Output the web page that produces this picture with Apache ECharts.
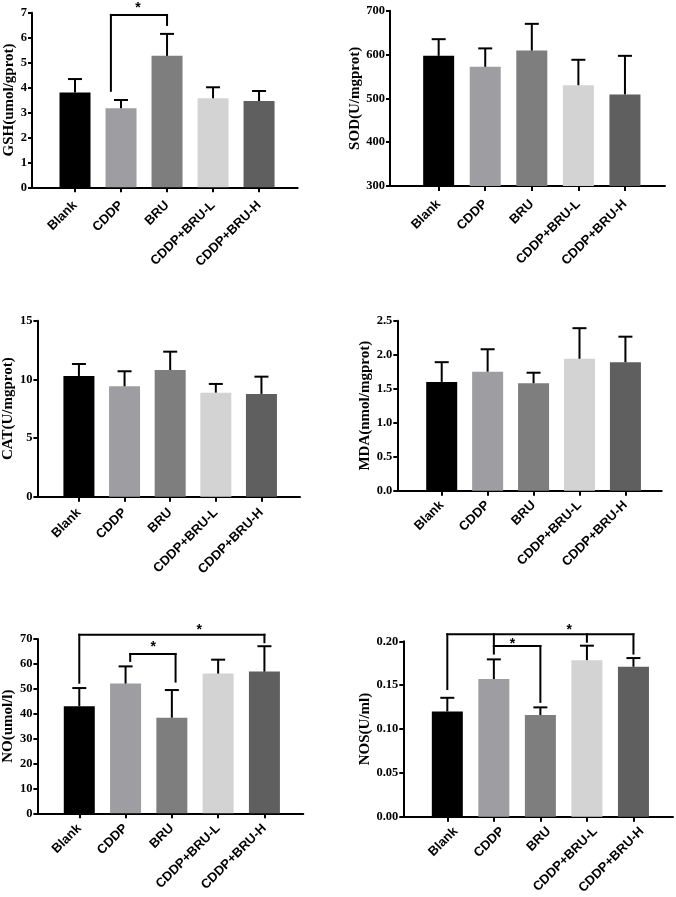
<!DOCTYPE html>
<html>
<head>
<meta charset="utf-8">
<script src="https://cdn.jsdelivr.net/npm/echarts@6/dist/echarts.min.js"></script>
<style>
html,body{margin:0;padding:0;background:#fff;}
#chart{width:676px;height:897px;}
</style>
</head>
<body>
<div id="chart"></div>
<script>
// ---------- data ----------
const categories = ['Blank', 'CDDP', 'BRU', 'CDDP+BRU-L', 'CDDP+BRU-H'];

const gshMean = [3.80, 3.17, 5.27, 3.57, 3.46];
const gshSD   = [0.54, 0.33, 0.88, 0.44, 0.40];
const sodMean = [597, 572, 609, 530, 509];
const sodSD   = [38, 42, 61, 58, 88];
const catMean = [10.29, 9.41, 10.80, 8.87, 8.76];
const catSD   = [1.02, 1.28, 1.56, 0.74, 1.47];
const mdaMean = [1.60, 1.75, 1.58, 1.94, 1.89];
const mdaSD   = [0.29, 0.33, 0.155, 0.45, 0.375];
const noMean  = [43.0, 52.1, 38.4, 56.1, 56.9];
const noSD    = [7.3, 6.9, 11.1, 5.6, 10.2];
const nosMean = [0.120, 0.157, 0.116, 0.1785, 0.171];
const nosSD   = [0.0156, 0.0224, 0.0087, 0.0165, 0.0099];

// significance brackets: segments [x1, y1, x2, y2] in data units
const gshBrackets = [[0.78, 3.87, 0.78, 6.91], [0.78, 6.91, 2, 6.91], [2, 6.91, 2, 6.51]];
const gshStars = [[1.37, 7.31]];
const noBrackets = [[0, 52.45, 0, 71.7], [0, 71.7, 4, 71.7], [4, 71.7, 4, 68.7],
                    [1.1, 61.2, 1.1, 64], [1.1, 64, 2.08, 64], [2.08, 64, 2.08, 52.9]];
const noStars = [[2.59, 74.9], [1.6, 67.9]];
const nosBrackets = [[0, 0.1456, 0, 0.208], [0, 0.208, 4, 0.208], [1, 0.208, 1, 0.186],
                     [1, 0.1947, 2, 0.1947], [2, 0.1947, 2, 0.131], [3, 0.208, 3, 0.1995],
                     [4, 0.208, 4, 0.186]];
const nosStars = [[2.62, 0.2166], [1.4, 0.2003]];

// ---------- styles / layout ----------
const barColors = ['#000000', '#9e9ea2', '#7e7e7e', '#d3d3d3', '#5f5f5f'];

const panels = [
  {name: 'GSH(umol/gprot)', mean: gshMean, sd: gshSD, ymin: 0, ymax: 7, step: 1, dec: 0,
   brackets: gshBrackets, stars: gshStars, labMargin: 16, labPad: 0,
   grid: {left: 32, top: 12.7, width: 265.7, height: 174.6}, xmin: -0.935, xmax: 4.84, nameGap: 15},
  {name: 'SOD(U/mgprot)', mean: sodMean, sd: sodSD, ymin: 300, ymax: 700, step: 100, dec: 0,
   brackets: [], stars: [], labMargin: 16, labPad: 0,
   grid: {left: 390, top: 10.7, width: 275, height: 175.3}, xmin: -1.045, xmax: 4.86, nameGap: 21},
  {name: 'CAT(U/mgprot)', mean: catMean, sd: catSD, ymin: 0, ymax: 15, step: 5, dec: 0,
   brackets: [], stars: [], labMargin: 14, labPad: 0,
   grid: {left: 32.3, top: 320.7, width: 267.7, height: 176}, xmin: -0.91, xmax: 4.845, nameGap: 15.5},
  {name: 'MDA(nmol/mgprot)', mean: mdaMean, sd: mdaSD, ymin: 0, ymax: 2.5, step: 0.5, dec: 1,
   brackets: [], stars: [], labMargin: 12.5, labPad: 0,
   grid: {left: 397.3, top: 320.7, width: 264.4, height: 170}, xmin: -0.967, xmax: 4.79, nameGap: 18},
  {name: 'NO(umol/l)', mean: noMean, sd: noSD, ymin: 0, ymax: 70, step: 10, dec: 0,
   brackets: noBrackets, stars: noStars, labMargin: 13, labPad: 0,
   grid: {left: 36.7, top: 639, width: 266.6, height: 174.3}, xmin: -0.905, xmax: 4.84, nameGap: 19},
  {name: 'NOS(U/ml)', mean: nosMean, sd: nosSD, ymin: 0, ymax: 0.2, step: 0.05, dec: 2,
   brackets: nosBrackets, stars: nosStars, labMargin: 4, labPad: 24,
   grid: {left: 403.3, top: 641.3, width: 269.7, height: 176.4}, xmin: -0.946, xmax: 4.85, nameGap: 30}
];

const tickIdx = categories.map((c, i) => i);
const labFont = {fontSize: 13, fontWeight: 'bold', fontFamily: 'Liberation Sans', color: '#000'};

function renderErr(params, api) {
  const x = api.value(0), m = api.value(1), t = api.value(2);
  const p0 = api.coord([x, m]), p1 = api.coord([x, t]);
  return {type: 'group', children: [
    {type: 'line', shape: {x1: p0[0], y1: p0[1], x2: p1[0], y2: p1[1]}, style: {stroke: '#000', lineWidth: 2}},
    {type: 'line', shape: {x1: p1[0] - 7, y1: p1[1], x2: p1[0] + 7, y2: p1[1]}, style: {stroke: '#000', lineWidth: 2}}
  ]};
}
function renderSeg(params, api) {
  const a = api.coord([api.value(0), api.value(1)]);
  const b = api.coord([api.value(2), api.value(3)]);
  return {type: 'line', shape: {x1: a[0], y1: a[1], x2: b[0], y2: b[1]}, style: {stroke: '#000', lineWidth: 2, lineCap: 'square'}};
}
function renderStar(params, api) {
  const p = api.coord([api.value(0), api.value(1)]);
  return {type: 'text', x: p[0], y: p[1] + 3, style: {text: '*', fontSize: 14, fontWeight: 'bold',
    fontFamily: 'Liberation Sans', fill: '#000', align: 'center', verticalAlign: 'middle'}};
}

const grids = [], xAxes = [], yAxes = [], series = [];
panels.forEach((p, k) => {
  grids.push(Object.assign({containLabel: false}, p.grid));
  xAxes.push({
    type: 'value', gridIndex: k, min: p.xmin, max: p.xmax,
    splitLine: {show: false},
    axisLine: {show: true, onZero: false, lineStyle: {color: '#000', width: 2}},
    axisTick: {show: true, customValues: tickIdx, length: 5, lineStyle: {color: '#000', width: 2}},
    axisLabel: Object.assign({show: true, customValues: tickIdx,
      formatter: v => '{t|' + categories[Math.round(v)] + '}',
      rotate: 45, margin: p.labMargin,
      rich: {t: Object.assign({padding: [p.labPad, 0, 0, 0]}, labFont)}}, labFont)
  });
  yAxes.push({
    type: 'value', gridIndex: k, min: p.ymin, max: p.ymax, interval: p.step,
    splitLine: {show: false},
    axisLine: {show: true, onZero: false, lineStyle: {color: '#000', width: 2}},
    axisTick: {show: true, length: 4, lineStyle: {color: '#000', width: 2}},
    axisLabel: {margin: 5, fontSize: 12.5, fontWeight: 'bold', fontFamily: 'Liberation Serif', color: '#000',
      formatter: v => v.toFixed(p.dec)},
    name: p.name, nameLocation: 'middle', nameGap: p.nameGap,
    nameTextStyle: {fontSize: 15, fontWeight: 'bold', fontFamily: 'Liberation Serif', color: '#000'}
  });
  series.push({
    type: 'bar', xAxisIndex: k, yAxisIndex: k, barWidth: 31, z: 2,
    data: p.mean.map((v, i) => ({value: [i, v], itemStyle: {color: barColors[i]}}))
  });
  series.push({
    type: 'custom', xAxisIndex: k, yAxisIndex: k, z: 3, renderItem: renderErr,
    encode: {x: 0, y: [1, 2]},
    data: p.mean.map((v, i) => [i, v, v + p.sd[i]])
  });
  if (p.brackets.length) {
    series.push({
      type: 'custom', xAxisIndex: k, yAxisIndex: k, z: 4, renderItem: renderSeg,
      encode: {x: [0, 2], y: [1, 3]}, data: p.brackets
    });
  }
  if (p.stars.length) {
    series.push({
      type: 'custom', xAxisIndex: k, yAxisIndex: k, z: 4, renderItem: renderStar,
      encode: {x: 0, y: 1}, data: p.stars
    });
  }
});

const chart = echarts.init(document.getElementById('chart'), null, {renderer: 'canvas'});
chart.setOption({
  animation: false,
  backgroundColor: '#fff',
  grid: grids, xAxis: xAxes, yAxis: yAxes, series: series
});
</script>
</body>
</html>
